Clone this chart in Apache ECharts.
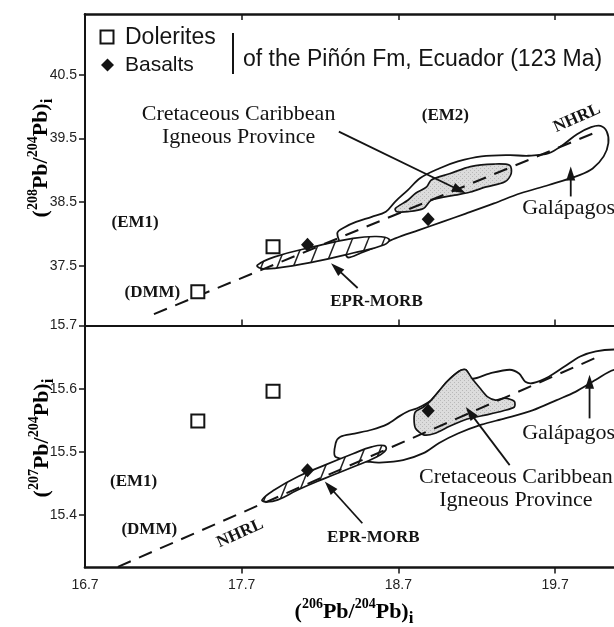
<!DOCTYPE html>
<html><head><meta charset="utf-8">
<script src="https://cdn.jsdelivr.net/npm/echarts@6/dist/echarts.min.js"></script>
<style>html,body{margin:0;padding:0;background:#fff}#c{width:614px;height:627px}</style>
</head><body><div id="c"></div>
<script>
// ---- axes ----
const xTicks = [16.7, 17.7, 18.7, 19.7];
const xInnerTicks = [17.7, 18.7, 19.7];
const yTicksTop = [37.5, 38.5, 39.5, 40.5];
const yTicksBot = [15.4, 15.5, 15.6, 15.7];
const xRange = [16.7, 20.076];
const yRangeTop = [36.56, 41.46];
const yRangeBot = [15.317, 15.7];

// ---- samples (206Pb/204Pb, 208Pb/204Pb) and (206Pb/204Pb, 207Pb/204Pb) ----
const doleriteTop = [[17.90, 37.80], [17.42, 37.09]];
const basaltTop = [[18.12, 37.83], [18.89, 38.23]];
const doleriteBot = [[17.42, 15.549], [17.90, 15.596]];
const basaltBot = [[18.12, 15.471], [18.89, 15.565]];

// ---- NHRL reference lines ----
const nhrlTop = [[17.14, 36.74], [19.98, 39.62]];
const nhrlBot = [[16.91, 15.318], [19.97, 15.650]];

// ---- fields (outlines) ----
const galTop = [[18.31,38.01],[18.36,38.11],[18.43,38.19],[18.53,38.27],[18.62,38.35],[18.68,38.51],[18.76,38.69],[18.84,38.88],[18.96,39.03],[19.08,39.14],[19.23,39.22],[19.41,39.24],[19.53,39.23],[19.66,39.27],[19.76,39.42],[19.84,39.57],[19.93,39.68],[19.99,39.70],[20.03,39.61],[20.04,39.43],[20.01,39.22],[19.94,39.03],[19.86,38.93],[19.66,38.77],[19.48,38.64],[19.31,38.48],[19.13,38.32],[18.98,38.19],[18.83,38.06],[18.68,37.93],[18.56,37.80],[18.46,37.70],[18.38,37.63],[18.36,37.70]];
const ccipTop = [[18.68,38.40],[18.76,38.53],[18.81,38.64],[18.88,38.74],[18.91,38.85],[19.03,38.95],[19.16,39.06],[19.31,39.10],[19.41,39.08],[19.42,38.95],[19.38,38.82],[19.26,38.74],[19.16,38.66],[19.06,38.61],[18.91,38.53],[18.86,38.40],[18.76,38.35],[18.69,38.35]];
const eprTop = [[17.80,37.51],[17.91,37.64],[18.16,37.80],[18.41,37.93],[18.56,37.96],[18.64,37.92],[18.61,37.83],[18.41,37.70],[18.16,37.56],[17.91,37.46],[17.82,37.46]];
const galBot = [[18.30,15.492],[18.30,15.514],[18.33,15.524],[18.42,15.529],[18.53,15.535],[18.63,15.544],[18.71,15.557],[18.77,15.565],[18.82,15.569],[18.91,15.582],[19.01,15.611],[19.09,15.628],[19.13,15.630],[19.17,15.616],[19.28,15.624],[19.41,15.630],[19.47,15.624],[19.51,15.611],[19.56,15.609],[19.66,15.619],[19.76,15.635],[19.86,15.651],[19.96,15.659],[20.08,15.662],[20.25,15.660],[20.32,15.645],[20.25,15.628],[20.08,15.630],[19.96,15.614],[19.83,15.595],[19.71,15.582],[19.56,15.566],[19.38,15.553],[19.23,15.543],[19.08,15.529],[18.96,15.514],[18.86,15.498],[18.73,15.487],[18.58,15.483],[18.52,15.484]];
const ccipBot = [[18.81,15.564],[18.86,15.571],[18.91,15.582],[19.01,15.611],[19.09,15.628],[19.13,15.630],[19.17,15.616],[19.22,15.601],[19.27,15.587],[19.32,15.582],[19.38,15.585],[19.44,15.580],[19.44,15.571],[19.37,15.565],[19.27,15.559],[19.14,15.552],[19.03,15.541],[18.93,15.529],[18.86,15.527],[18.81,15.537],[18.80,15.553]];
const eprBot = [[17.83,15.424],[17.91,15.440],[18.06,15.461],[18.23,15.479],[18.41,15.497],[18.53,15.508],[18.61,15.510],[18.62,15.503],[18.56,15.492],[18.41,15.476],[18.23,15.458],[18.06,15.440],[17.93,15.424],[17.86,15.421]];

// ---- annotation arrows [x1,y1,x2(head),y2(head)] ----
const arrowsTop = [[18.32,39.61,19.13,38.64],[19.80,38.59,19.80,39.06],[18.44,37.15,18.27,37.54]];
const arrowsBot = [[18.47,15.387,18.23,15.453],[19.41,15.479,19.13,15.571],[19.92,15.553,19.92,15.622]];

// ---- annotation labels ----
const labelTextTop = ['Cretaceous Caribbean\nIgneous Province','(EM2)','NHRL','Galápagos','(EM1)','(DMM)','EPR-MORB'];
const labelPosTop = [[17.68,39.70],[19.00,39.86],[19.84,39.82],[19.49,38.41],[17.02,38.18],[17.13,37.07],[18.56,36.93]];
const labelTextBot = ['Cretaceous Caribbean\nIgneous Province','Galápagos','(EM1)','(DMM)','NHRL','EPR-MORB'];
const labelPosBot = [[19.45,15.441],[19.49,15.529],[17.01,15.453],[17.11,15.377],[17.69,15.371],[18.54,15.365]];

// ===================================================================
const INK = '#141414';
const SERIF = '"Liberation Serif", "Times New Roman", serif';
const SANS = '"Liberation Sans", Arial, sans-serif';

const hatch = document.createElement('canvas');
hatch.width = 16; hatch.height = 40;
(function(){
  const g = hatch.getContext('2d');
  g.fillStyle = '#fff'; g.fillRect(0,0,16,40);
  g.strokeStyle = '#222'; g.lineWidth = 1.5;
  for (const k of [-16, 0, 16]) { g.beginPath(); g.moveTo(k, 40); g.lineTo(k + 16, 0); g.stroke(); }
})();
const stip = document.createElement('canvas');
stip.width = 4; stip.height = 4;
(function(){
  const g = stip.getContext('2d');
  g.fillStyle = '#dcdcdc'; g.fillRect(0,0,4,4);
  g.fillStyle = '#b8b8b8'; g.fillRect(0,0,1,1); g.fillRect(2,2,1,1);
})();

function polySeries(xi, yi, pts, style, z, smooth) {
  return { type:'custom', xAxisIndex:xi, yAxisIndex:yi, data:pts, z:z, silent:true, clip:false,
    renderItem(params, api) {
      if (params.dataIndex !== 0) return null;
      return { type:'polygon', shape:{ points: pts.map(p => api.coord(p)), smooth: smooth }, style: style };
    } };
}
function lineSeries(xi, yi, pts) {
  return { type:'line', xAxisIndex:xi, yAxisIndex:yi, data:pts, symbol:'none', z:6, silent:true, clip:false,
    lineStyle:{ color:INK, width:2, type:[14, 9] } };
}
function arrowSeries(xi, yi, arr) {
  return { type:'custom', xAxisIndex:xi, yAxisIndex:yi, data:arr, z:8, silent:true, clip:false,
    encode:{ x:[0,2], y:[1,3] },
    renderItem(params, api) {
      const a = api.coord([api.value(0), api.value(1)]);
      const b = api.coord([api.value(2), api.value(3)]);
      const ang = Math.atan2(b[1]-a[1], b[0]-a[0]);
      const L = 14, W = 4.5;
      const bx = b[0] - L*Math.cos(ang), by = b[1] - L*Math.sin(ang);
      return { type:'group', children:[
        { type:'line', shape:{ x1:a[0], y1:a[1], x2:bx + 2*Math.cos(ang), y2:by + 2*Math.sin(ang) }, style:{ stroke:INK, lineWidth:1.8 } },
        { type:'polygon', shape:{ points:[[b[0],b[1]],[bx - W*Math.sin(ang), by + W*Math.cos(ang)],[bx + W*Math.sin(ang), by - W*Math.cos(ang)]] }, style:{ fill:INK } }
      ] };
    } };
}
function labelStyle(t) {
  if (t.indexOf('Cretaceous') === 0) return { font:'22px ' + SERIF, align:'center', lh:23, rot:0 };
  if (t === 'Galápagos') return { font:'22px ' + SERIF, align:'left', rot:0 };
  if (t === 'NHRL') return { font:'bold 17px ' + SERIF, align:'center', rot:24 };
  return { font:'bold 17px ' + SERIF, align:'center', rot:0 };
}
function labelSeries(xi, yi, pos, texts) {
  return { type:'custom', xAxisIndex:xi, yAxisIndex:yi, data:pos, z:9, silent:true, clip:false,
    renderItem(params, api) {
      const p = api.coord([api.value(0), api.value(1)]);
      const t = texts[params.dataIndex];
      const s = labelStyle(t);
      return { type:'text', x:p[0], y:p[1], rotation: s.rot*Math.PI/180,
        style:{ text:t, font:s.font, fill:INK, align:s.align, textAlign:s.align, verticalAlign:'middle', textVerticalAlign:'middle', lineHeight:s.lh } };
    } };
}
function pointSeries(xi, yi, pts, kind) {
  if (kind === 'dol') return { type:'scatter', xAxisIndex:xi, yAxisIndex:yi, data:pts, symbol:'rect', symbolSize:13, z:12, clip:false,
    itemStyle:{ color:'#fff', borderColor:INK, borderWidth:2, opacity:1 } };
  return { type:'scatter', xAxisIndex:xi, yAxisIndex:yi, data:pts, symbol:'diamond', symbolSize:[13,14], z:12, clip:false,
    itemStyle:{ color:INK, opacity:1 } };
}

const outline = { fill:'none', stroke:INK, lineWidth:1.8 };
const ccipStyle = { fill:{ image:stip, repeat:'repeat' }, stroke:INK, lineWidth:1.7 };
const eprStyle = { fill:{ image:hatch, repeat:'repeat' }, stroke:INK, lineWidth:1.7 };

const axisLbl = { color:'#222', fontFamily:SANS, fontSize:14 };

function xAx(grid, pos, ticksInside, showLabels, lw) {
  return { type:'value', gridIndex:grid, position:pos, min:xRange[0], max:xRange[1],
    axisLine:{ show:true, onZero:false, lineStyle:{ color:INK, width:lw } },
    axisTick:{ show:true, inside:ticksInside, length:6, customValues:xInnerTicks, lineStyle:{ color:INK, width:1.5 } },
    axisLabel: showLabels ? Object.assign({ show:true, margin:11, customValues:xTicks }, axisLbl) : { show:false },
    splitLine:{ show:false } };
}
function yAx(grid, rng, ticks) {
  return { type:'value', gridIndex:grid, min:rng[0], max:rng[1],
    axisLine:{ show:true, onZero:false, lineStyle:{ color:INK, width:2 } },
    axisTick:{ show:true, inside:false, length:6, customValues:ticks, lineStyle:{ color:INK, width:1.5 } },
    axisLabel: Object.assign({ show:true, margin:8, customValues:ticks }, axisLbl),
    splitLine:{ show:false } };
}

const titleRich = {
  p:{ fontFamily:SERIF, fontWeight:'bold', fontSize:22, lineHeight:30, verticalAlign:'middle', color:INK },
  s:{ fontFamily:SERIF, fontWeight:'bold', fontSize:14, lineHeight:14, verticalAlign:'top', color:INK },
  i:{ fontFamily:SERIF, fontWeight:'bold', fontSize:17, lineHeight:14, verticalAlign:'bottom', color:INK }
};
function titleText(a, b) { return '{p|(}{s|' + a + '}{p|Pb/}{s|' + b + '}{p|Pb)}{i|i}'; }

const chart = echarts.init(document.getElementById('c'), null, { renderer:'canvas' });
chart.setOption({
  animation:false,
  backgroundColor:'#fff',
  grid:[
    { left:85, top:14, right:0, height:311.5 },
    { left:85, top:325.5, right:0, height:242 }
  ],
  xAxis:[
    xAx(0, 'bottom', true, false, 2),
    xAx(0, 'top', true, false, 2.6),
    xAx(1, 'bottom', false, true, 2.6)
  ],
  yAxis:[ yAx(0, yRangeTop, yTicksTop), yAx(1, yRangeBot, yTicksBot) ],
  series:[
    polySeries(0, 0, galTop, outline, 2, 0.35),
    polySeries(0, 0, ccipTop, ccipStyle, 3, 0.3),
    polySeries(0, 0, eprTop, eprStyle, 4, 0.45),
    lineSeries(0, 0, nhrlTop),
    arrowSeries(0, 0, arrowsTop),
    labelSeries(0, 0, labelPosTop, labelTextTop),
    pointSeries(0, 0, doleriteTop, 'dol'),
    pointSeries(0, 0, basaltTop, 'bas'),
    polySeries(2, 1, galBot, outline, 2, 0.3),
    polySeries(2, 1, ccipBot, ccipStyle, 3, 0.25),
    polySeries(2, 1, eprBot, eprStyle, 4, 0.45),
    lineSeries(2, 1, nhrlBot),
    arrowSeries(2, 1, arrowsBot),
    labelSeries(2, 1, labelPosBot, labelTextBot),
    pointSeries(2, 1, doleriteBot, 'dol'),
    pointSeries(2, 1, basaltBot, 'bas')
  ],
  graphic:[
    { type:'rect', shape:{ x:100.5, y:30.5, width:13, height:13 }, style:{ fill:'#fff', stroke:INK, lineWidth:2 }, z:20 },
    { type:'text', x:125, y:38, style:{ text:'Dolerites', font:'23px ' + SANS, fill:INK, verticalAlign:'middle', textVerticalAlign:'middle' }, z:20 },
    { type:'polygon', shape:{ points:[[107.5,58.5],[114,65],[107.5,71.5],[101,65]] }, style:{ fill:INK }, z:20 },
    { type:'text', x:125, y:65, style:{ text:'Basalts', font:'21px ' + SANS, fill:INK, verticalAlign:'middle', textVerticalAlign:'middle' }, z:20 },
    { type:'line', shape:{ x1:233, y1:33, x2:233, y2:74 }, style:{ stroke:INK, lineWidth:2 }, z:20 },
    { type:'text', x:243, y:60, style:{ text:'of the Piñón Fm, Ecuador (123 Ma)', font:'23px ' + SANS, fill:INK, verticalAlign:'middle', textVerticalAlign:'middle' }, z:20 },
    { type:'text', x:354, y:612, style:{ text:titleText('206','204'), rich:titleRich, align:'center', verticalAlign:'middle' }, z:20 },
    { type:'text', x:41, y:158, rotation:Math.PI/2, style:{ text:titleText('208','204'), rich:titleRich, align:'center', verticalAlign:'middle' }, z:20 },
    { type:'text', x:42, y:438, rotation:Math.PI/2, style:{ text:titleText('207','204'), rich:titleRich, align:'center', verticalAlign:'middle' }, z:20 }
  ]
});
</script>
</body></html>
